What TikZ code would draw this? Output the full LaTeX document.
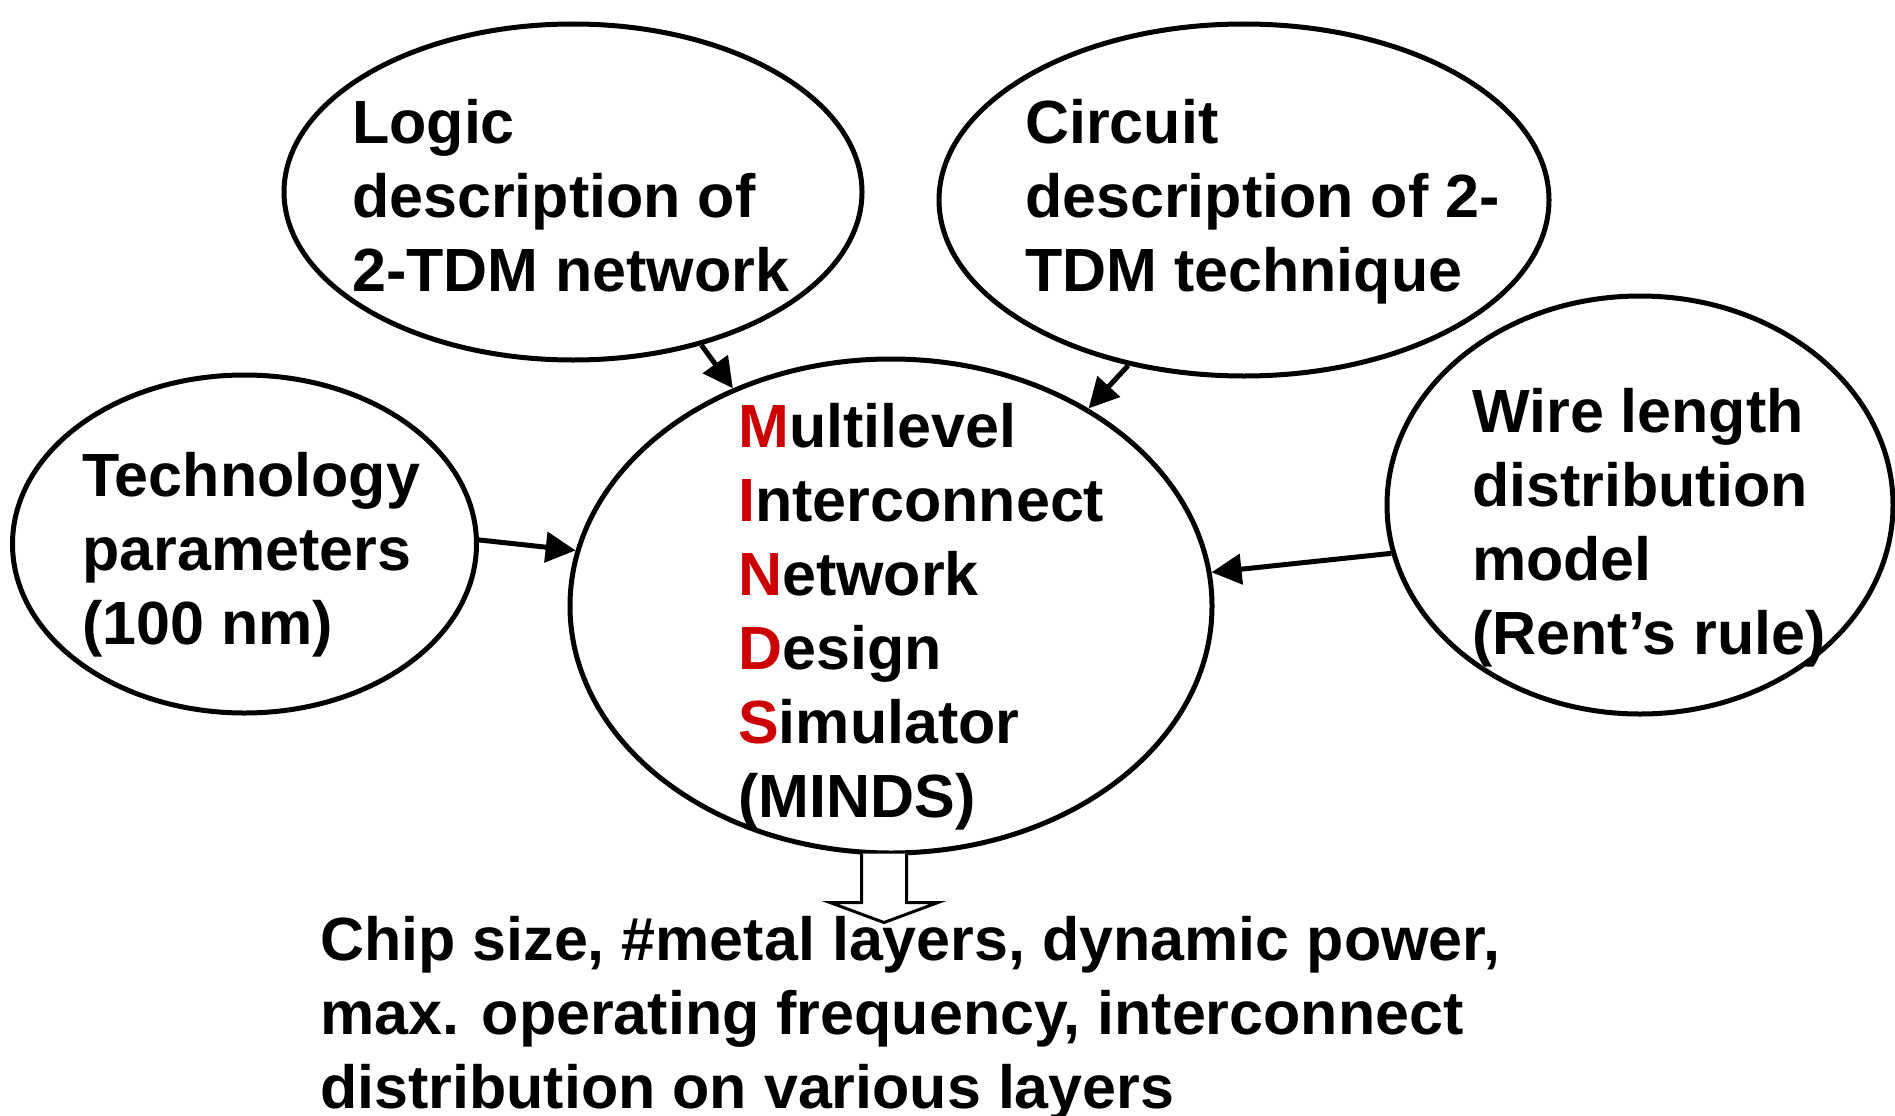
\documentclass[tikz,border=0pt]{standalone}
\usepackage{fontspec}
\setmainfont{Liberation Sans}
\usetikzlibrary{shapes.geometric,arrows.meta,calc}
\definecolor{minred}{RGB}{204,0,0}
\begin{document}
\begin{tikzpicture}[x=1pt,y=-1pt,
  oval/.style={ellipse,draw,line width=5pt,inner sep=0pt},
  txt/.style={anchor=base west,inner sep=0pt,font=\fontsize{61}{74}\selectfont\bfseries},
  link/.style={line width=5pt,-{Triangle[length=30pt,width=30pt]}},
  hollow/.style={line width=3pt,fill=white,line join=miter}]
\useasboundingbox (0,0) rectangle (1895,1116);
% ellipses
\node[oval,minimum width=578pt,minimum height=336pt] (logic) at (573,192) {};
\node[oval,minimum width=610pt,minimum height=352pt] (circuit) at (1244,200) {};
\node[oval,minimum width=464pt,minimum height=338pt] (tech) at (244.5,544) {};
\node[oval,minimum width=642pt,minimum height=494pt] (minds) at (891,606) {};
\node[oval,minimum width=506pt,minimum height=418pt] (wire) at (1640,505) {};
% texts
\node[txt] (tlogic) at (352,143) {\begin{tabular}[t]{@{}l@{}}Logic\\description of\\2-TDM network\end{tabular}};
\node[txt] (tcircuit) at (1025,143) {\begin{tabular}[t]{@{}l@{}}Circuit\\description of 2-\\TDM technique\end{tabular}};
\node[txt] (ttech) at (82,496) {\begin{tabular}[t]{@{}l@{}}Technology\\parameters\\(100 nm)\end{tabular}};
\node[txt] (tminds) at (738,447) {\begin{tabular}[t]{@{}l@{}}\textcolor{minred}{M}ultilevel\\\textcolor{minred}{I}nterconnect\\\textcolor{minred}{N}etwork\\\textcolor{minred}{D}esign\\\textcolor{minred}{S}imulator\\(MINDS)\end{tabular}};
\node[txt] (twire) at (1472,432) {\begin{tabular}[t]{@{}l@{}}Wire length\\distribution\\model\\(Rent’s rule)\end{tabular}};
\node[txt] (tout) at (320,960) {\begin{tabular}[t]{@{}l@{}}Chip size, \#metal layers, dynamic power,\\max. operating frequency, interconnect\\distribution on various layers\end{tabular}};
% connectors
\draw[link] (logic.-50.3) -- (minds.126.6);
\draw[link] (circuit.-125.1) -- (minds.45.6);
\draw[link] (tech.1.7) -- (minds.170);
\draw[link] (wire.-169.2) -- (minds.6.7);
% hollow output arrow
\coordinate (out) at ($(minds.south)+(-7,0)$);
\draw[hollow] ($(out)+(-22.5,-2)$) -- ($(out)+(-22.5,47)$) -- ($(out)+(-54,47)$) -- ($(out)+(0,67)$) -- ($(out)+(54,47)$) -- ($(out)+(22.5,47)$) -- ($(out)+(22.5,-2)$);
\end{tikzpicture}
\end{document}
